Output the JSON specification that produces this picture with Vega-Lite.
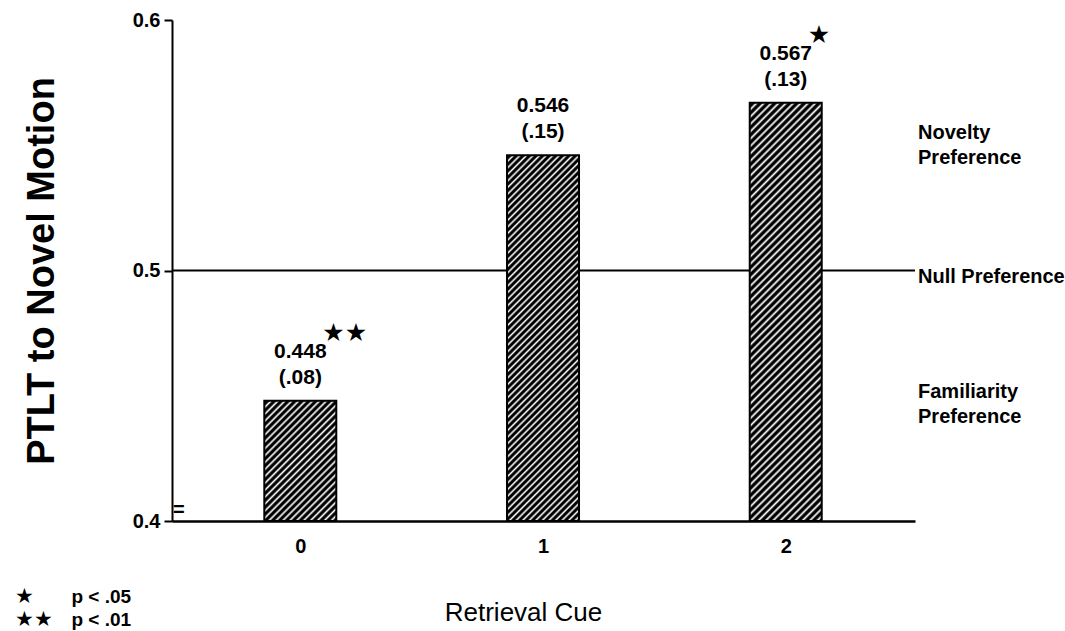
{
  "$schema": "https://vega.github.io/schema/vega-lite/v6.json",
  "width": 743,
  "height": 501,
  "autosize": {"type": "none"},
  "padding": {"left": 172, "top": 20, "right": 150, "bottom": 110},
  "background": "white",
  "config": {"view": {"stroke": null}, "font": "Liberation Sans", "axis": {"labelFontWeight": "bold", "labelFontSize": 20, "labelColor": "#000", "labelFont": "Liberation Sans"}},
  "datasets": {
    "bars": [
      {"cue": 0, "ptlt": 0.448, "label": "0.448\n(.08)", "sig": "★★"},
      {"cue": 1, "ptlt": 0.546, "label": "0.546\n(.15)", "sig": ""},
      {"cue": 2, "ptlt": 0.567, "label": "0.567\n(.13)", "sig": "★"}
    ],
    "zones": [
      {"zone": "Novelty\nPreference", "at": 2.545, "level": 0.5525},
      {"zone": "Null Preference", "at": 2.545, "level": 0.495},
      {"zone": "Familiarity\nPreference", "at": 2.545, "level": 0.449}
    ],
    "keys": [
      {"sym": "★", "note": "p < .05", "sx": -1.175, "nx": -0.943, "ky": 0.3673},
      {"sym": "★★", "note": "p < .01", "sx": -1.175, "nx": -0.943, "ky": 0.3581}
    ],
    "axisbreak": [
      {"glyph": "=", "bx": -0.5, "by": 0.4045}
    ]
  },
  "layer": [
    {
      "data": {"values": [{"level": 0.5}]},
      "mark": {"type": "rule", "color": "#000", "strokeWidth": 2},
      "encoding": {
        "y": {"field": "level", "type": "quantitative", "scale": {"domain": [0.4, 0.6], "nice": false, "zero": false},
          "axis": {"values": [0.4, 0.5, 0.6], "format": ".1f", "grid": false, "domainColor": "#000", "domainWidth": 2, "tickColor": "#000", "tickWidth": 2, "tickSize": 8, "labelPadding": 4, "labelFont": "Liberation Sans", "labelFontWeight": "bold", "labelFontSize": 20, "labelColor": "#000", "title": "PTLT to Novel Motion", "titleFont": "Liberation Sans", "titleFontSize": 38, "titleFontWeight": "bold", "titleColor": "#000", "titleAngle": 270, "titleAlign": "center", "titleBaseline": "alphabetic", "titleX": -119, "titleY": 250.5}}
      }
    },
    {
      "data": {"name": "bars"},
      "mark": {"type": "bar", "width": 72, "stroke": "#000", "strokeWidth": 2},
      "encoding": {
        "x": {"field": "cue", "type": "quantitative", "scale": {"domain": [-0.508, 2.512], "nice": false, "zero": false},
          "axis": {"values": [0, 1, 2], "format": "d", "grid": false, "ticks": false, "domainColor": "#000", "domainWidth": 2.5, "labelPadding": 15, "labelFont": "Liberation Sans", "labelFontWeight": "bold", "labelFontSize": 20, "labelColor": "#000", "title": "Retrieval Cue", "titleFont": "Liberation Sans", "titleFontSize": 26, "titleFontWeight": "normal", "titleColor": "#000", "titleX": 351, "titleY": 99, "titleAlign": "center", "titleBaseline": "alphabetic"}},
        "y": {"field": "ptlt", "type": "quantitative", "scale": {"domain": [0.4, 0.6], "nice": false, "zero": false},
          "axis": {"values": [0.4, 0.5, 0.6], "format": ".1f", "grid": false, "domainColor": "#000", "domainWidth": 2, "tickColor": "#000", "tickWidth": 2, "tickSize": 8, "labelPadding": 4, "labelFont": "Liberation Sans", "labelFontWeight": "bold", "labelFontSize": 20, "labelColor": "#000", "title": "PTLT to Novel Motion", "titleFont": "Liberation Sans", "titleFontSize": 38, "titleFontWeight": "bold", "titleColor": "#000", "titleAngle": 270, "titleAlign": "center", "titleBaseline": "alphabetic", "titleX": -119, "titleY": 250.5}},
        "y2": {"datum": 0.4},
        "fill": {
          "condition": [
            {"test": "datum.cue == 0", "value": {"gradient": "linear", "x1": 0, "y1": 0, "x2": 0.7047, "y2": 1.1768, "stops": [
              {"offset": 0, "color": "#fff"}, {"offset": 0.012, "color": "#000"}, {"offset": 0.024, "color": "#000"},
              {"offset": 0.036, "color": "#fff"}, {"offset": 0.048, "color": "#000"}, {"offset": 0.06, "color": "#000"},
              {"offset": 0.072, "color": "#fff"}, {"offset": 0.084, "color": "#000"}, {"offset": 0.096, "color": "#000"},
              {"offset": 0.108, "color": "#fff"}, {"offset": 0.12, "color": "#000"}, {"offset": 0.132, "color": "#000"},
              {"offset": 0.144, "color": "#fff"}, {"offset": 0.156, "color": "#000"}, {"offset": 0.168, "color": "#000"},
              {"offset": 0.18, "color": "#fff"}, {"offset": 0.192, "color": "#000"}, {"offset": 0.204, "color": "#000"},
              {"offset": 0.216, "color": "#fff"}, {"offset": 0.228, "color": "#000"}, {"offset": 0.24, "color": "#000"},
              {"offset": 0.252, "color": "#fff"}, {"offset": 0.264, "color": "#000"}, {"offset": 0.276, "color": "#000"},
              {"offset": 0.288, "color": "#fff"}, {"offset": 0.3, "color": "#000"}, {"offset": 0.312, "color": "#000"},
              {"offset": 0.324, "color": "#fff"}, {"offset": 0.336, "color": "#000"}, {"offset": 0.348, "color": "#000"},
              {"offset": 0.36, "color": "#fff"}, {"offset": 0.372, "color": "#000"}, {"offset": 0.384, "color": "#000"},
              {"offset": 0.396, "color": "#fff"}, {"offset": 0.408, "color": "#000"}, {"offset": 0.42, "color": "#000"},
              {"offset": 0.432, "color": "#fff"}, {"offset": 0.444, "color": "#000"}, {"offset": 0.456, "color": "#000"},
              {"offset": 0.468, "color": "#fff"}, {"offset": 0.48, "color": "#000"}, {"offset": 0.492, "color": "#000"},
              {"offset": 0.504, "color": "#fff"}, {"offset": 0.516, "color": "#000"}, {"offset": 0.528, "color": "#000"},
              {"offset": 0.54, "color": "#fff"}, {"offset": 0.552, "color": "#000"}, {"offset": 0.564, "color": "#000"},
              {"offset": 0.576, "color": "#fff"}, {"offset": 0.588, "color": "#000"}, {"offset": 0.6, "color": "#000"},
              {"offset": 0.612, "color": "#fff"}, {"offset": 0.624, "color": "#000"}, {"offset": 0.636, "color": "#000"},
              {"offset": 0.648, "color": "#fff"}, {"offset": 0.66, "color": "#000"}, {"offset": 0.672, "color": "#000"},
              {"offset": 0.684, "color": "#fff"}, {"offset": 0.696, "color": "#000"}, {"offset": 0.708, "color": "#000"},
              {"offset": 0.72, "color": "#fff"}, {"offset": 0.732, "color": "#000"}, {"offset": 0.744, "color": "#000"},
              {"offset": 0.756, "color": "#fff"}, {"offset": 0.768, "color": "#000"}, {"offset": 0.78, "color": "#000"},
              {"offset": 0.792, "color": "#fff"}, {"offset": 0.804, "color": "#000"}, {"offset": 0.816, "color": "#000"},
              {"offset": 0.828, "color": "#fff"}, {"offset": 0.84, "color": "#000"}, {"offset": 0.852, "color": "#000"},
              {"offset": 0.864, "color": "#fff"}, {"offset": 0.876, "color": "#000"}, {"offset": 0.888, "color": "#000"},
              {"offset": 0.9, "color": "#fff"}, {"offset": 0.912, "color": "#000"}, {"offset": 0.924, "color": "#000"},
              {"offset": 0.936, "color": "#fff"}, {"offset": 0.948, "color": "#000"}, {"offset": 0.96, "color": "#000"},
              {"offset": 0.972, "color": "#fff"}, {"offset": 0.984, "color": "#000"}, {"offset": 0.996, "color": "#000"}
            ]}},
            {"test": "datum.cue == 1", "value": {"gradient": "linear", "x1": 0, "y1": 0, "x2": 0.2268, "y2": 1.1522, "stops": [
              {"offset": 0, "color": "#fff"}, {"offset": 0.005, "color": "#000"}, {"offset": 0.01, "color": "#000"},
              {"offset": 0.015, "color": "#fff"}, {"offset": 0.02, "color": "#000"}, {"offset": 0.025, "color": "#000"},
              {"offset": 0.03, "color": "#fff"}, {"offset": 0.035, "color": "#000"}, {"offset": 0.04, "color": "#000"},
              {"offset": 0.045, "color": "#fff"}, {"offset": 0.05, "color": "#000"}, {"offset": 0.055, "color": "#000"},
              {"offset": 0.06, "color": "#fff"}, {"offset": 0.065, "color": "#000"}, {"offset": 0.07, "color": "#000"},
              {"offset": 0.075, "color": "#fff"}, {"offset": 0.08, "color": "#000"}, {"offset": 0.085, "color": "#000"},
              {"offset": 0.09, "color": "#fff"}, {"offset": 0.095, "color": "#000"}, {"offset": 0.1, "color": "#000"},
              {"offset": 0.105, "color": "#fff"}, {"offset": 0.11, "color": "#000"}, {"offset": 0.115, "color": "#000"},
              {"offset": 0.12, "color": "#fff"}, {"offset": 0.125, "color": "#000"}, {"offset": 0.13, "color": "#000"},
              {"offset": 0.135, "color": "#fff"}, {"offset": 0.14, "color": "#000"}, {"offset": 0.145, "color": "#000"},
              {"offset": 0.15, "color": "#fff"}, {"offset": 0.155, "color": "#000"}, {"offset": 0.16, "color": "#000"},
              {"offset": 0.165, "color": "#fff"}, {"offset": 0.17, "color": "#000"}, {"offset": 0.175, "color": "#000"},
              {"offset": 0.18, "color": "#fff"}, {"offset": 0.185, "color": "#000"}, {"offset": 0.19, "color": "#000"},
              {"offset": 0.195, "color": "#fff"}, {"offset": 0.2, "color": "#000"}, {"offset": 0.205, "color": "#000"},
              {"offset": 0.21, "color": "#fff"}, {"offset": 0.215, "color": "#000"}, {"offset": 0.22, "color": "#000"},
              {"offset": 0.225, "color": "#fff"}, {"offset": 0.23, "color": "#000"}, {"offset": 0.235, "color": "#000"},
              {"offset": 0.24, "color": "#fff"}, {"offset": 0.245, "color": "#000"}, {"offset": 0.25, "color": "#000"},
              {"offset": 0.255, "color": "#fff"}, {"offset": 0.26, "color": "#000"}, {"offset": 0.265, "color": "#000"},
              {"offset": 0.27, "color": "#fff"}, {"offset": 0.275, "color": "#000"}, {"offset": 0.28, "color": "#000"},
              {"offset": 0.285, "color": "#fff"}, {"offset": 0.29, "color": "#000"}, {"offset": 0.295, "color": "#000"},
              {"offset": 0.3, "color": "#fff"}, {"offset": 0.305, "color": "#000"}, {"offset": 0.31, "color": "#000"},
              {"offset": 0.315, "color": "#fff"}, {"offset": 0.32, "color": "#000"}, {"offset": 0.325, "color": "#000"},
              {"offset": 0.33, "color": "#fff"}, {"offset": 0.335, "color": "#000"}, {"offset": 0.34, "color": "#000"},
              {"offset": 0.345, "color": "#fff"}, {"offset": 0.35, "color": "#000"}, {"offset": 0.355, "color": "#000"},
              {"offset": 0.36, "color": "#fff"}, {"offset": 0.365, "color": "#000"}, {"offset": 0.37, "color": "#000"},
              {"offset": 0.375, "color": "#fff"}, {"offset": 0.38, "color": "#000"}, {"offset": 0.385, "color": "#000"},
              {"offset": 0.39, "color": "#fff"}, {"offset": 0.395, "color": "#000"}, {"offset": 0.4, "color": "#000"},
              {"offset": 0.405, "color": "#fff"}, {"offset": 0.41, "color": "#000"}, {"offset": 0.415, "color": "#000"},
              {"offset": 0.42, "color": "#fff"}, {"offset": 0.425, "color": "#000"}, {"offset": 0.43, "color": "#000"},
              {"offset": 0.435, "color": "#fff"}, {"offset": 0.44, "color": "#000"}, {"offset": 0.445, "color": "#000"},
              {"offset": 0.45, "color": "#fff"}, {"offset": 0.455, "color": "#000"}, {"offset": 0.46, "color": "#000"},
              {"offset": 0.465, "color": "#fff"}, {"offset": 0.47, "color": "#000"}, {"offset": 0.475, "color": "#000"},
              {"offset": 0.48, "color": "#fff"}, {"offset": 0.485, "color": "#000"}, {"offset": 0.49, "color": "#000"},
              {"offset": 0.495, "color": "#fff"}, {"offset": 0.5, "color": "#000"}, {"offset": 0.505, "color": "#000"},
              {"offset": 0.51, "color": "#fff"}, {"offset": 0.515, "color": "#000"}, {"offset": 0.52, "color": "#000"},
              {"offset": 0.525, "color": "#fff"}, {"offset": 0.53, "color": "#000"}, {"offset": 0.535, "color": "#000"},
              {"offset": 0.54, "color": "#fff"}, {"offset": 0.545, "color": "#000"}, {"offset": 0.55, "color": "#000"},
              {"offset": 0.555, "color": "#fff"}, {"offset": 0.56, "color": "#000"}, {"offset": 0.565, "color": "#000"},
              {"offset": 0.57, "color": "#fff"}, {"offset": 0.575, "color": "#000"}, {"offset": 0.58, "color": "#000"},
              {"offset": 0.585, "color": "#fff"}, {"offset": 0.59, "color": "#000"}, {"offset": 0.595, "color": "#000"},
              {"offset": 0.6, "color": "#fff"}, {"offset": 0.605, "color": "#000"}, {"offset": 0.61, "color": "#000"},
              {"offset": 0.615, "color": "#fff"}, {"offset": 0.62, "color": "#000"}, {"offset": 0.625, "color": "#000"},
              {"offset": 0.63, "color": "#fff"}, {"offset": 0.635, "color": "#000"}, {"offset": 0.64, "color": "#000"},
              {"offset": 0.645, "color": "#fff"}, {"offset": 0.65, "color": "#000"}, {"offset": 0.655, "color": "#000"},
              {"offset": 0.66, "color": "#fff"}, {"offset": 0.665, "color": "#000"}, {"offset": 0.67, "color": "#000"},
              {"offset": 0.675, "color": "#fff"}, {"offset": 0.68, "color": "#000"}, {"offset": 0.685, "color": "#000"},
              {"offset": 0.69, "color": "#fff"}, {"offset": 0.695, "color": "#000"}, {"offset": 0.7, "color": "#000"},
              {"offset": 0.705, "color": "#fff"}, {"offset": 0.71, "color": "#000"}, {"offset": 0.715, "color": "#000"},
              {"offset": 0.72, "color": "#fff"}, {"offset": 0.725, "color": "#000"}, {"offset": 0.73, "color": "#000"},
              {"offset": 0.735, "color": "#fff"}, {"offset": 0.74, "color": "#000"}, {"offset": 0.745, "color": "#000"},
              {"offset": 0.75, "color": "#fff"}, {"offset": 0.755, "color": "#000"}, {"offset": 0.76, "color": "#000"},
              {"offset": 0.765, "color": "#fff"}, {"offset": 0.77, "color": "#000"}, {"offset": 0.775, "color": "#000"},
              {"offset": 0.78, "color": "#fff"}, {"offset": 0.785, "color": "#000"}, {"offset": 0.79, "color": "#000"},
              {"offset": 0.795, "color": "#fff"}, {"offset": 0.8, "color": "#000"}, {"offset": 0.805, "color": "#000"},
              {"offset": 0.81, "color": "#fff"}, {"offset": 0.815, "color": "#000"}, {"offset": 0.82, "color": "#000"},
              {"offset": 0.825, "color": "#fff"}, {"offset": 0.83, "color": "#000"}, {"offset": 0.835, "color": "#000"},
              {"offset": 0.84, "color": "#fff"}, {"offset": 0.845, "color": "#000"}, {"offset": 0.85, "color": "#000"},
              {"offset": 0.855, "color": "#fff"}, {"offset": 0.86, "color": "#000"}, {"offset": 0.865, "color": "#000"},
              {"offset": 0.87, "color": "#fff"}, {"offset": 0.875, "color": "#000"}, {"offset": 0.88, "color": "#000"},
              {"offset": 0.885, "color": "#fff"}, {"offset": 0.89, "color": "#000"}, {"offset": 0.895, "color": "#000"},
              {"offset": 0.9, "color": "#fff"}, {"offset": 0.905, "color": "#000"}, {"offset": 0.91, "color": "#000"},
              {"offset": 0.915, "color": "#fff"}, {"offset": 0.92, "color": "#000"}, {"offset": 0.925, "color": "#000"},
              {"offset": 0.93, "color": "#fff"}, {"offset": 0.935, "color": "#000"}, {"offset": 0.94, "color": "#000"},
              {"offset": 0.945, "color": "#fff"}, {"offset": 0.95, "color": "#000"}, {"offset": 0.955, "color": "#000"},
              {"offset": 0.96, "color": "#fff"}, {"offset": 0.965, "color": "#000"}, {"offset": 0.97, "color": "#000"},
              {"offset": 0.975, "color": "#fff"}, {"offset": 0.98, "color": "#000"}, {"offset": 0.985, "color": "#000"},
              {"offset": 0.99, "color": "#fff"}, {"offset": 0.995, "color": "#000"}, {"offset": 1, "color": "#000"}
            ]}}
          ],
          "value": {"gradient": "linear", "x1": 0, "y1": 0, "x2": 0.1959, "y2": 1.1384, "stops": [
              {"offset": 0, "color": "#fff"}, {"offset": 0.005, "color": "#000"}, {"offset": 0.01, "color": "#000"},
              {"offset": 0.015, "color": "#fff"}, {"offset": 0.02, "color": "#000"}, {"offset": 0.025, "color": "#000"},
              {"offset": 0.03, "color": "#fff"}, {"offset": 0.035, "color": "#000"}, {"offset": 0.04, "color": "#000"},
              {"offset": 0.045, "color": "#fff"}, {"offset": 0.05, "color": "#000"}, {"offset": 0.055, "color": "#000"},
              {"offset": 0.06, "color": "#fff"}, {"offset": 0.065, "color": "#000"}, {"offset": 0.07, "color": "#000"},
              {"offset": 0.075, "color": "#fff"}, {"offset": 0.08, "color": "#000"}, {"offset": 0.085, "color": "#000"},
              {"offset": 0.09, "color": "#fff"}, {"offset": 0.095, "color": "#000"}, {"offset": 0.1, "color": "#000"},
              {"offset": 0.105, "color": "#fff"}, {"offset": 0.11, "color": "#000"}, {"offset": 0.115, "color": "#000"},
              {"offset": 0.12, "color": "#fff"}, {"offset": 0.125, "color": "#000"}, {"offset": 0.13, "color": "#000"},
              {"offset": 0.135, "color": "#fff"}, {"offset": 0.14, "color": "#000"}, {"offset": 0.145, "color": "#000"},
              {"offset": 0.15, "color": "#fff"}, {"offset": 0.155, "color": "#000"}, {"offset": 0.16, "color": "#000"},
              {"offset": 0.165, "color": "#fff"}, {"offset": 0.17, "color": "#000"}, {"offset": 0.175, "color": "#000"},
              {"offset": 0.18, "color": "#fff"}, {"offset": 0.185, "color": "#000"}, {"offset": 0.19, "color": "#000"},
              {"offset": 0.195, "color": "#fff"}, {"offset": 0.2, "color": "#000"}, {"offset": 0.205, "color": "#000"},
              {"offset": 0.21, "color": "#fff"}, {"offset": 0.215, "color": "#000"}, {"offset": 0.22, "color": "#000"},
              {"offset": 0.225, "color": "#fff"}, {"offset": 0.23, "color": "#000"}, {"offset": 0.235, "color": "#000"},
              {"offset": 0.24, "color": "#fff"}, {"offset": 0.245, "color": "#000"}, {"offset": 0.25, "color": "#000"},
              {"offset": 0.255, "color": "#fff"}, {"offset": 0.26, "color": "#000"}, {"offset": 0.265, "color": "#000"},
              {"offset": 0.27, "color": "#fff"}, {"offset": 0.275, "color": "#000"}, {"offset": 0.28, "color": "#000"},
              {"offset": 0.285, "color": "#fff"}, {"offset": 0.29, "color": "#000"}, {"offset": 0.295, "color": "#000"},
              {"offset": 0.3, "color": "#fff"}, {"offset": 0.305, "color": "#000"}, {"offset": 0.31, "color": "#000"},
              {"offset": 0.315, "color": "#fff"}, {"offset": 0.32, "color": "#000"}, {"offset": 0.325, "color": "#000"},
              {"offset": 0.33, "color": "#fff"}, {"offset": 0.335, "color": "#000"}, {"offset": 0.34, "color": "#000"},
              {"offset": 0.345, "color": "#fff"}, {"offset": 0.35, "color": "#000"}, {"offset": 0.355, "color": "#000"},
              {"offset": 0.36, "color": "#fff"}, {"offset": 0.365, "color": "#000"}, {"offset": 0.37, "color": "#000"},
              {"offset": 0.375, "color": "#fff"}, {"offset": 0.38, "color": "#000"}, {"offset": 0.385, "color": "#000"},
              {"offset": 0.39, "color": "#fff"}, {"offset": 0.395, "color": "#000"}, {"offset": 0.4, "color": "#000"},
              {"offset": 0.405, "color": "#fff"}, {"offset": 0.41, "color": "#000"}, {"offset": 0.415, "color": "#000"},
              {"offset": 0.42, "color": "#fff"}, {"offset": 0.425, "color": "#000"}, {"offset": 0.43, "color": "#000"},
              {"offset": 0.435, "color": "#fff"}, {"offset": 0.44, "color": "#000"}, {"offset": 0.445, "color": "#000"},
              {"offset": 0.45, "color": "#fff"}, {"offset": 0.455, "color": "#000"}, {"offset": 0.46, "color": "#000"},
              {"offset": 0.465, "color": "#fff"}, {"offset": 0.47, "color": "#000"}, {"offset": 0.475, "color": "#000"},
              {"offset": 0.48, "color": "#fff"}, {"offset": 0.485, "color": "#000"}, {"offset": 0.49, "color": "#000"},
              {"offset": 0.495, "color": "#fff"}, {"offset": 0.5, "color": "#000"}, {"offset": 0.505, "color": "#000"},
              {"offset": 0.51, "color": "#fff"}, {"offset": 0.515, "color": "#000"}, {"offset": 0.52, "color": "#000"},
              {"offset": 0.525, "color": "#fff"}, {"offset": 0.53, "color": "#000"}, {"offset": 0.535, "color": "#000"},
              {"offset": 0.54, "color": "#fff"}, {"offset": 0.545, "color": "#000"}, {"offset": 0.55, "color": "#000"},
              {"offset": 0.555, "color": "#fff"}, {"offset": 0.56, "color": "#000"}, {"offset": 0.565, "color": "#000"},
              {"offset": 0.57, "color": "#fff"}, {"offset": 0.575, "color": "#000"}, {"offset": 0.58, "color": "#000"},
              {"offset": 0.585, "color": "#fff"}, {"offset": 0.59, "color": "#000"}, {"offset": 0.595, "color": "#000"},
              {"offset": 0.6, "color": "#fff"}, {"offset": 0.605, "color": "#000"}, {"offset": 0.61, "color": "#000"},
              {"offset": 0.615, "color": "#fff"}, {"offset": 0.62, "color": "#000"}, {"offset": 0.625, "color": "#000"},
              {"offset": 0.63, "color": "#fff"}, {"offset": 0.635, "color": "#000"}, {"offset": 0.64, "color": "#000"},
              {"offset": 0.645, "color": "#fff"}, {"offset": 0.65, "color": "#000"}, {"offset": 0.655, "color": "#000"},
              {"offset": 0.66, "color": "#fff"}, {"offset": 0.665, "color": "#000"}, {"offset": 0.67, "color": "#000"},
              {"offset": 0.675, "color": "#fff"}, {"offset": 0.68, "color": "#000"}, {"offset": 0.685, "color": "#000"},
              {"offset": 0.69, "color": "#fff"}, {"offset": 0.695, "color": "#000"}, {"offset": 0.7, "color": "#000"},
              {"offset": 0.705, "color": "#fff"}, {"offset": 0.71, "color": "#000"}, {"offset": 0.715, "color": "#000"},
              {"offset": 0.72, "color": "#fff"}, {"offset": 0.725, "color": "#000"}, {"offset": 0.73, "color": "#000"},
              {"offset": 0.735, "color": "#fff"}, {"offset": 0.74, "color": "#000"}, {"offset": 0.745, "color": "#000"},
              {"offset": 0.75, "color": "#fff"}, {"offset": 0.755, "color": "#000"}, {"offset": 0.76, "color": "#000"},
              {"offset": 0.765, "color": "#fff"}, {"offset": 0.77, "color": "#000"}, {"offset": 0.775, "color": "#000"},
              {"offset": 0.78, "color": "#fff"}, {"offset": 0.785, "color": "#000"}, {"offset": 0.79, "color": "#000"},
              {"offset": 0.795, "color": "#fff"}, {"offset": 0.8, "color": "#000"}, {"offset": 0.805, "color": "#000"},
              {"offset": 0.81, "color": "#fff"}, {"offset": 0.815, "color": "#000"}, {"offset": 0.82, "color": "#000"},
              {"offset": 0.825, "color": "#fff"}, {"offset": 0.83, "color": "#000"}, {"offset": 0.835, "color": "#000"},
              {"offset": 0.84, "color": "#fff"}, {"offset": 0.845, "color": "#000"}, {"offset": 0.85, "color": "#000"},
              {"offset": 0.855, "color": "#fff"}, {"offset": 0.86, "color": "#000"}, {"offset": 0.865, "color": "#000"},
              {"offset": 0.87, "color": "#fff"}, {"offset": 0.875, "color": "#000"}, {"offset": 0.88, "color": "#000"},
              {"offset": 0.885, "color": "#fff"}, {"offset": 0.89, "color": "#000"}, {"offset": 0.895, "color": "#000"},
              {"offset": 0.9, "color": "#fff"}, {"offset": 0.905, "color": "#000"}, {"offset": 0.91, "color": "#000"},
              {"offset": 0.915, "color": "#fff"}, {"offset": 0.92, "color": "#000"}, {"offset": 0.925, "color": "#000"},
              {"offset": 0.93, "color": "#fff"}, {"offset": 0.935, "color": "#000"}, {"offset": 0.94, "color": "#000"},
              {"offset": 0.945, "color": "#fff"}, {"offset": 0.95, "color": "#000"}, {"offset": 0.955, "color": "#000"},
              {"offset": 0.96, "color": "#fff"}, {"offset": 0.965, "color": "#000"}, {"offset": 0.97, "color": "#000"},
              {"offset": 0.975, "color": "#fff"}, {"offset": 0.98, "color": "#000"}, {"offset": 0.985, "color": "#000"},
              {"offset": 0.99, "color": "#fff"}, {"offset": 0.995, "color": "#000"}, {"offset": 1, "color": "#000"}
          ]}
        }
      }
    },
    {
      "data": {"name": "bars"},
      "mark": {"type": "text", "lineBreak": "\n", "lineHeight": 26, "baseline": "alphabetic", "align": "center", "dy": -43, "fontSize": 21, "fontWeight": "bold", "font": "Liberation Sans", "color": "#000"},
      "encoding": {
        "x": {"field": "cue", "type": "quantitative", "scale": {"domain": [-0.508, 2.512], "nice": false, "zero": false}},
        "y": {"field": "ptlt", "type": "quantitative", "scale": {"domain": [0.4, 0.6], "nice": false, "zero": false}},
        "text": {"field": "label"}
      }
    },
    {
      "data": {"name": "bars"},
      "mark": {"type": "text", "baseline": "middle", "align": "left", "dx": 22, "dy": -68, "fontSize": 25, "font": "DejaVu Sans", "color": "#000"},
      "encoding": {
        "x": {"field": "cue", "type": "quantitative", "scale": {"domain": [-0.508, 2.512], "nice": false, "zero": false}},
        "y": {"field": "ptlt", "type": "quantitative", "scale": {"domain": [0.4, 0.6], "nice": false, "zero": false}},
        "text": {"field": "sig"}
      }
    },
    {
      "data": {"name": "zones"},
      "mark": {"type": "text", "lineBreak": "\n", "lineHeight": 25, "baseline": "alphabetic", "align": "left", "fontSize": 20, "fontWeight": "bold", "font": "Liberation Sans", "color": "#000"},
      "encoding": {
        "x": {"field": "at", "type": "quantitative", "scale": {"domain": [-0.508, 2.512], "nice": false, "zero": false}},
        "y": {"field": "level", "type": "quantitative", "scale": {"domain": [0.4, 0.6], "nice": false, "zero": false}},
        "text": {"field": "zone"}
      }
    },
    {
      "data": {"name": "keys"},
      "mark": {"type": "text", "baseline": "alphabetic", "align": "left", "fontSize": 21, "font": "DejaVu Sans", "color": "#000"},
      "encoding": {
        "x": {"field": "sx", "type": "quantitative", "scale": {"domain": [-0.508, 2.512], "nice": false, "zero": false}},
        "y": {"field": "ky", "type": "quantitative", "scale": {"domain": [0.4, 0.6], "nice": false, "zero": false}},
        "text": {"field": "sym"}
      }
    },
    {
      "data": {"name": "keys"},
      "mark": {"type": "text", "baseline": "alphabetic", "align": "left", "fontSize": 19, "fontWeight": "bold", "font": "Liberation Sans", "color": "#000"},
      "encoding": {
        "x": {"field": "nx", "type": "quantitative", "scale": {"domain": [-0.508, 2.512], "nice": false, "zero": false}},
        "y": {"field": "ky", "type": "quantitative", "scale": {"domain": [0.4, 0.6], "nice": false, "zero": false}},
        "text": {"field": "note"}
      }
    },
    {
      "data": {"name": "axisbreak"},
      "mark": {"type": "text", "baseline": "middle", "align": "center", "fontSize": 20, "fontWeight": "bold", "font": "Liberation Sans", "color": "#000"},
      "encoding": {
        "x": {"field": "bx", "type": "quantitative", "scale": {"domain": [-0.508, 2.512], "nice": false, "zero": false}},
        "y": {"field": "by", "type": "quantitative", "scale": {"domain": [0.4, 0.6], "nice": false, "zero": false}},
        "text": {"field": "glyph"}
      }
    }
  ]
}
